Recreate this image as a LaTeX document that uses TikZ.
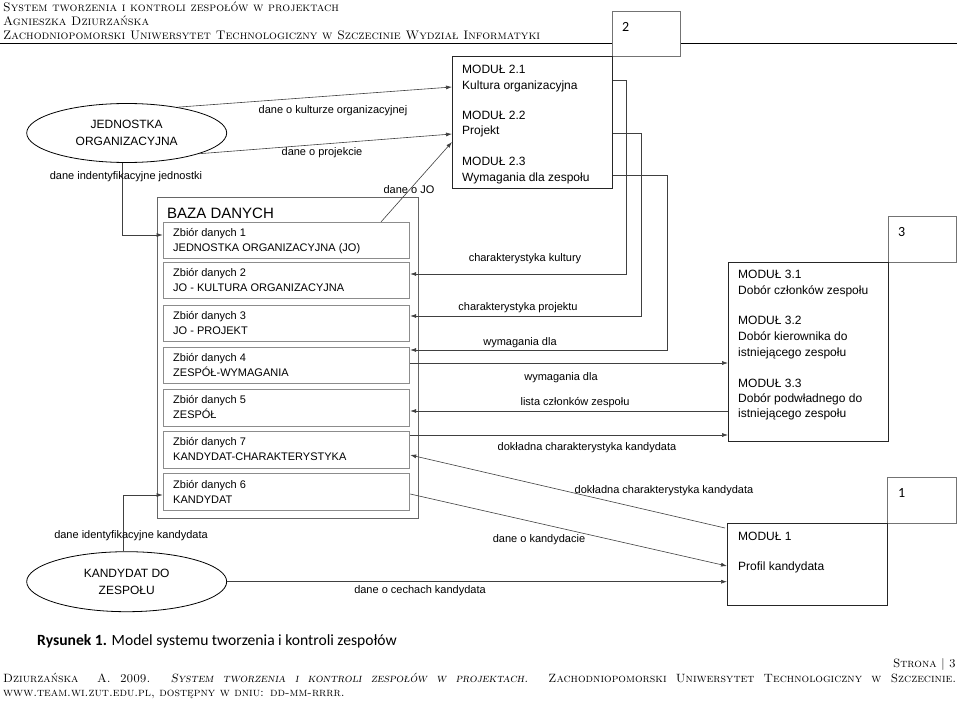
\documentclass[tikz,border=0pt]{standalone}
\usepackage{fontspec}
\newfontfamily\arial{Liberation Sans}
\newfontfamily\calibri{Carlito}
\usetikzlibrary{arrows.meta,shapes.geometric}
\tikzset{
  lbl/.style={font=\arial\fontsize{11}{13}\selectfont, inner sep=0pt, anchor=base},
  modtxt/.style={font=\arial\fontsize{12}{14}\selectfont, inner sep=0pt, anchor=base west},
  zbtxt/.style={font=\arial\fontsize{11}{13}\selectfont, inner sep=0pt, anchor=base west},
  modbox/.style={draw=black!85, line width=0.8pt, rectangle, anchor=north west, inner sep=0pt},
  numbox/.style={draw=black!55, line width=0.7pt, rectangle, anchor=north west, inner sep=0pt},
  zbbox/.style={draw=black!45, line width=0.9pt, rectangle, anchor=north west, inner sep=0pt,
     minimum width=246.6pt, minimum height=36.5pt},
  numtxt/.style={font=\calibri\fontsize{14}{16}\selectfont, inner sep=0pt, anchor=base west},
  ell/.style={draw=black, line width=0.8pt, ellipse, inner sep=0pt, align=center,
     font=\arial\fontsize{12}{16.6}\selectfont},
  conn/.style={draw=black!75, line width=0.6pt},
  arr/.style={conn, -{Latex[length=6pt,width=4pt]}},
  hdr/.style={inner sep=0pt, anchor=base west, font=\fontsize{12.4}{14}\selectfont\scshape},
  ftr/.style={inner sep=0pt, font=\fontsize{12}{14}\selectfont\scshape}
}
\begin{document}
\begin{tikzpicture}[x=1pt,y=-1pt]
\useasboundingbox (0,0) rectangle (959,701);
\fill[white] (0,0) rectangle (959,701);

% header
\node[hdr] (h1) at (3,11.7) {System tworzenia i kontroli zespołów w projektach};
\node[hdr] (h2) at (3,25.3) {Agnieszka Dziurzańska};
\node[hdr] (h3) at (3,39.3) {Zachodniopomorski Uniwersytet Technologiczny w Szczecinie Wydział Informatyki};

% number boxes
\node[numbox, minimum width=68pt, minimum height=45pt] (box2) at (612,11) {};
\node[numtxt] (n2) at (622,31.5) {2};
\draw[line width=1.3pt] (0,43.3) -- (box2.west |- 0,43.3);
\draw[line width=1.3pt] (box2.east |- 0,43.3) -- (957,43.3);

% module 2
\node[modbox, minimum width=160pt, minimum height=132pt] (m2) at (452,56) {};
\node[modtxt] (t21a) at (462,74) {MODUŁ 2.1};
\node[modtxt] (t21b) at (462,89) {Kultura organizacyjna};
\node[modtxt] (t22a) at (462,119) {MODUŁ 2.2};
\node[modtxt] (t22b) at (462,135) {Projekt};
\node[modtxt] (t23a) at (462,165) {MODUŁ 2.3};
\node[modtxt] (t23b) at (462,181) {Wymagania dla zespołu};

% module 3
\node[numbox, minimum width=68pt, minimum height=46pt] (box3) at (888,216) {};
\node[numtxt] (n3) at (898,236.5) {3};
\node[modbox, minimum width=160pt, minimum height=179pt] (m3) at (728,262) {};
\node[modtxt] (t31a) at (738,278) {MODUŁ 3.1};
\node[modtxt] (t31b) at (738,294) {Dobór członków zespołu};
\node[modtxt] (t32a) at (738,324) {MODUŁ 3.2};
\node[modtxt] (t32b) at (738,340) {Dobór kierownika do};
\node[modtxt] (t32c) at (738,356) {istniejącego zespołu};
\node[modtxt] (t33a) at (738,387) {MODUŁ 3.3};
\node[modtxt] (t33b) at (738,402) {Dobór podwładnego do};
\node[modtxt] (t33c) at (738,417) {istniejącego zespołu};

% module 1
\node[numbox, minimum width=69pt, minimum height=46pt] (box1) at (887,477) {};
\node[numtxt] (n1) at (898,497.5) {1};
\node[modbox, minimum width=160pt, minimum height=82pt] (m1) at (727,523) {};
\node[modtxt] (t1a) at (738,540) {MODUŁ 1};
\node[modtxt] (t1b) at (738,570) {Profil kandydata};

% database
\node[draw=black!60, line width=1.2pt, rectangle, anchor=north west, inner sep=0pt,
      minimum width=261pt, minimum height=321pt] (baza) at (157,197) {};
\node[font=\arial\fontsize{15}{17}\selectfont, inner sep=0pt, anchor=base west] (bazat) at (167,218) {BAZA DANYCH};
\node[zbbox] (zb1) at (162.7,221.7) {};
\node[zbbox] (zb2) at (162.7,261.7) {};
\node[zbbox] (zb3) at (162.7,304.5) {};
\node[zbbox] (zb4) at (162.7,346.7) {};
\node[zbbox] (zb5) at (162.7,389) {};
\node[zbbox] (zb7) at (162.7,431) {};
\node[zbbox] (zb6) at (162.7,473.3) {};
\node[zbtxt] at (173,236.4) {Zbiór danych 1};
\node[zbtxt] at (173,251.4) {JEDNOSTKA ORGANIZACYJNA (JO)};
\node[zbtxt] at (173,276.4) {Zbiór danych 2};
\node[zbtxt] at (173,291.4) {JO - KULTURA ORGANIZACYJNA};
\node[zbtxt] at (173,319.2) {Zbiór danych 3};
\node[zbtxt] at (173,334.2) {JO - PROJEKT};
\node[zbtxt] at (173,361.4) {Zbiór danych 4};
\node[zbtxt] at (173,376.4) {ZESPÓŁ-WYMAGANIA};
\node[zbtxt] at (173,403.7) {Zbiór danych 5};
\node[zbtxt] at (173,418.7) {ZESPÓŁ};
\node[zbtxt] at (173,445.7) {Zbiór danych 7};
\node[zbtxt] at (173,460.7) {KANDYDAT-CHARAKTERYSTYKA};
\node[zbtxt] at (173,488) {Zbiór danych 6};
\node[zbtxt] at (173,503) {KANDYDAT};

% ellipses
\node[ell, minimum width=200pt, minimum height=59pt] (jo) at (126.7,133) {JEDNOSTKA\\ORGANIZACYJNA};
\node[ell, minimum width=200pt, minimum height=60pt] (kand) at (126.7,581.7) {KANDYDAT DO\\ZESPOŁU};

% connectors
\draw[arr] (jo.27) -- (m2.west |- 0,87);
\draw[arr] (jo.-16) -- (m2.west |- 0,134);
\draw[arr] ([xshift=-29pt]zb1.north east) -- (m2.west |- 0,142);
\draw[arr] ([xshift=-4pt]jo.south) |- (zb1.west |- 0,235);
\draw[arr] (m2.east |- 0,80) -- (626,80) -- (626,274) -- (zb2.east |- 0,274);
\draw[arr] (m2.east |- 0,133) -- (641,133) -- (641,316) -- (zb3.east |- 0,316);
\draw[arr] (m2.east |- 0,175) -- (667,175) -- (667,350) -- (zb4.east |- 0,350);
\draw[arr] (zb4.east |- 0,363) -- (m3.west |- 0,363);
\draw[arr] (m3.west |- 0,411) -- (zb5.east |- 0,411);
\draw[arr] (zb7.east |- 0,435) -- (m3.west |- 0,435);
\draw[arr] ([xshift=-2pt,yshift=-5pt]m1.north west) -- (zb7.east |- 0,455);
\draw[arr] (zb6.east |- 0,494) -- (m1.west |- 0,566);
\draw[arr] (kand.east) -- (m1.west |- kand.east);
\draw[arr] ([xshift=-3pt]kand.north) |- (zb6.west |- 0,495);

% labels
\node[lbl] at (333,113.7) {dane o kulturze organizacyjnej};
\node[lbl] at (322,155.4) {dane o projekcie};
\node[lbl] at (126,179.7) {dane indentyfikacyjne jednostki};
\node[lbl] at (409,193.7) {dane o JO};
\node[lbl] at (525,261.7) {charakterystyka kultury};
\node[lbl] at (518,310.4) {charakterystyka projektu};
\node[lbl] at (520,345.4) {wymagania dla};
\node[lbl] at (561,380.4) {wymagania dla};
\node[lbl] at (575,405.4) {lista członków zespołu};
\node[lbl] at (587,450.7) {dokładna charakterystyka kandydata};
\node[lbl] at (664,493.7) {dokładna charakterystyka kandydata};
\node[lbl] at (539,542.7) {dane o kandydacie};
\node[lbl] at (131,538.7) {dane identyfikacyjne kandydata};
\node[lbl] at (420,593.7) {dane o cechach kandydata};

% caption and footer
\node[inner sep=0pt, anchor=base west, font=\calibri\fontsize{15.6}{18}\selectfont] (cap) at (37,645)
  {\textbf{Rysunek 1.} Model systemu tworzenia i kontroli zespołów};
\node[ftr, anchor=base east] (pg) at (956,667) {Strona | 3};
\node[ftr, anchor=base west] (f1) at (3,682) {\makebox[953pt][s]{Dziurzańska \ A. 2009. \textit{System tworzenia i kontroli zespołów w projektach.} Zachodniopomorski Uniwersytet Technologiczny w Szczecinie.}};
\node[ftr, anchor=base west] (f2) at (3,696) {www.team.wi.zut.edu.pl, dostępny w dniu: dd-mm-rrrr.};
\end{tikzpicture}
\end{document}
